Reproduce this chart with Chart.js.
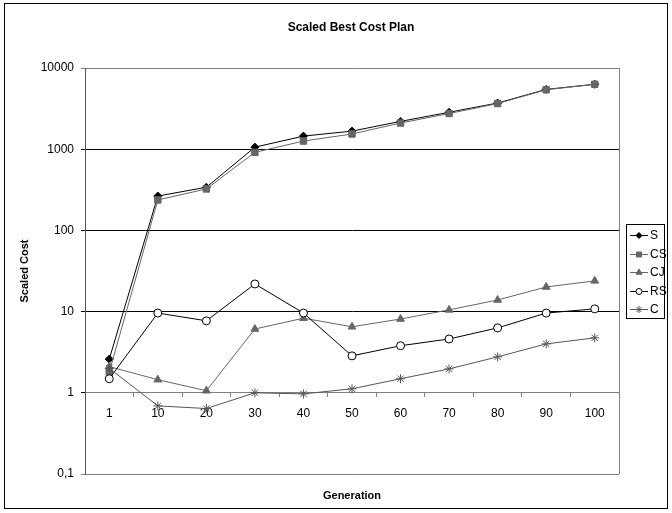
<!DOCTYPE html>
<html>
<head>
<meta charset="utf-8">
<script src="https://cdn.jsdelivr.net/npm/chart.js@4/dist/chart.umd.min.js"></script>
<style>
  html, body { margin: 0; padding: 0; background: #fff; }
</style>
</head>
<body>
<canvas id="costChart" width="672" height="513"></canvas>
<script>
// generations on the x axis, scaled best cost per strategy
const generations = ['1', '10', '20', '30', '40', '50', '60', '70', '80', '90', '100'];
const sCost  = [2.6, 265, 340, 1060, 1450, 1670, 2200, 2850, 3700, 5450, 6300];
const csCost = [1.8, 237, 324, 915, 1260, 1540, 2100, 2750, 3650, 5400, 6300];
const cjCost = [2.1, 1.45, 1.06, 6.1, 8.3, 6.5, 8.1, 10.5, 13.9, 20.1, 23.9];
const rsCost = [1.49, 9.6, 7.7, 21.9, 9.6, 2.85, 3.8, 4.6, 6.3, 9.6, 10.8];
const cCost  = [2.0, 0.69, 0.64, 1.0, 0.97, 1.12, 1.49, 1.97, 2.77, 4.0, 4.75];
const yTickValues = [0.1, 1, 10, 100, 1000, 10000];
const yTickLabels = ['0,1', '1', '10', '100', '1000', '10000'];

const FONT = 'Arial, "Liberation Sans", sans-serif';
const GRAY = '#808080';

const series = (label, data, color, pointStyle, radius, fill, order) => ({
  label, data, order,
  borderColor: color,
  borderWidth: 1,
  pointStyle,
  pointRadius: radius,
  pointHoverRadius: radius,
  pointBorderColor: color,
  pointBackgroundColor: fill,
  pointBorderWidth: 1,
  tension: 0,
  fill: false,
});

// frame, titles and the boxed legend on the right
const excelFrame = {
  id: 'excelFrame',
  beforeDatasetsDraw(chart) {
    const { ctx, chartArea: a } = chart;
    ctx.save();
    ctx.strokeStyle = GRAY;
    ctx.lineWidth = 1;
    ctx.beginPath();
    ctx.moveTo(Math.round(a.right) + 0.5, a.top);
    ctx.lineTo(Math.round(a.right) + 0.5, a.bottom);
    ctx.stroke();
    ctx.restore();
  },
  afterDraw(chart, args, opts) {
    const { ctx, chartArea: a } = chart;
    ctx.save();
    // outer border
    ctx.strokeStyle = '#000';
    ctx.lineWidth = 1;
    ctx.strokeRect(4.5, 3.5, 663, 505);

    ctx.fillStyle = '#000';
    ctx.textAlign = 'center';
    ctx.textBaseline = 'middle';
    ctx.font = 'bold 12px ' + FONT;
    ctx.fillText(opts.title, 351, 28);
    ctx.font = 'bold 11px ' + FONT;
    ctx.fillText(opts.xTitle, (a.left + a.right) / 2, 496);

    // legend
    const box = opts.legend;
    ctx.strokeRect(box.left + 0.5, box.top + 0.5, box.width, box.height);
    ctx.font = '12px ' + FONT;
    ctx.textAlign = 'left';
    chart.data.datasets.forEach((ds, i) => {
      const y = Math.round(box.top + 11 + i * 18.5) + 0.5;
      const x0 = box.left + 4, x1 = box.left + 22;
      ctx.strokeStyle = ds.borderColor;
      ctx.beginPath();
      ctx.moveTo(x0, y);
      ctx.lineTo(x1, y);
      ctx.stroke();
      ctx.fillStyle = ds.pointBackgroundColor;
      ctx.strokeStyle = ds.pointBorderColor;
      ctx.lineWidth = 1;
      Chart.helpers.drawPoint(ctx, { pointStyle: ds.pointStyle, radius: ds.pointRadius - 1, borderWidth: 1, rotation: 0 }, (x0 + x1) / 2, y);
      ctx.fillStyle = '#000';
      ctx.fillText(ds.label, x1 + 2, y);
    });
    ctx.restore();
  },
};

new Chart(document.getElementById('costChart'), {
  type: 'line',
  data: {
    labels: generations,
    datasets: [
      series('S', sCost, '#000', 'rectRot', 4, '#000', 5),
      series('CS', csCost, '#666', 'rect', 4.5, '#666', 4),
      series('CJ', cjCost, '#666', 'triangle', 4.5, '#666', 3),
      series('RS', rsCost, '#000', 'circle', 4, '#fff', 2),
      series('C', cCost, '#555', 'star', 4.5, '#555', 1),
    ],
  },
  options: {
    responsive: false,
    animation: false,
    layout: { padding: { left: 0, right: 53, top: 68, bottom: 39 } },
    plugins: {
      legend: { display: false },
      title: { display: false },
      tooltip: { enabled: false },
      excelFrame: {
        title: 'Scaled Best Cost Plan',
        xTitle: 'Generation',
        legend: { left: 626, top: 224, width: 38, height: 94 },
      },
    },
    scales: {
      x: {
        type: 'category',
        position: { y: 1 },
        offset: true,
        grid: { offset: true, drawOnChartArea: false, tickLength: 4, color: GRAY },
        border: { color: GRAY, width: 1 },
        ticks: { color: '#000', font: { family: FONT, size: 12 }, padding: 10, maxRotation: 0, autoSkip: false },
        afterFit(scale) { scale.height = 0; },
      },
      y: {
        type: 'logarithmic',
        min: 0.1,
        max: 10000,
        afterBuildTicks(scale) {
          scale.ticks = yTickValues.map(v => ({ value: v }));
        },
        afterFit(scale) { scale.width = 85; },
        grid: {
          tickLength: 4,
          color: ctx => (ctx.tick && (ctx.tick.value === 0.1 || ctx.tick.value === 10000)) ? GRAY : '#000',
          lineWidth: 1,
        },
        border: { color: '#555', width: 1 },
        ticks: {
          color: '#000',
          font: { family: FONT, size: 12 },
          padding: 7,
          callback: (v, i) => yTickLabels[i],
        },
        title: {
          display: true,
          text: 'Scaled Cost',
          color: '#000',
          font: { family: FONT, size: 11, weight: 'bold' },
          padding: { top: 18, bottom: 0 },
        },
      },
    },
  },
  plugins: [excelFrame],
});
</script>
</body>
</html>
